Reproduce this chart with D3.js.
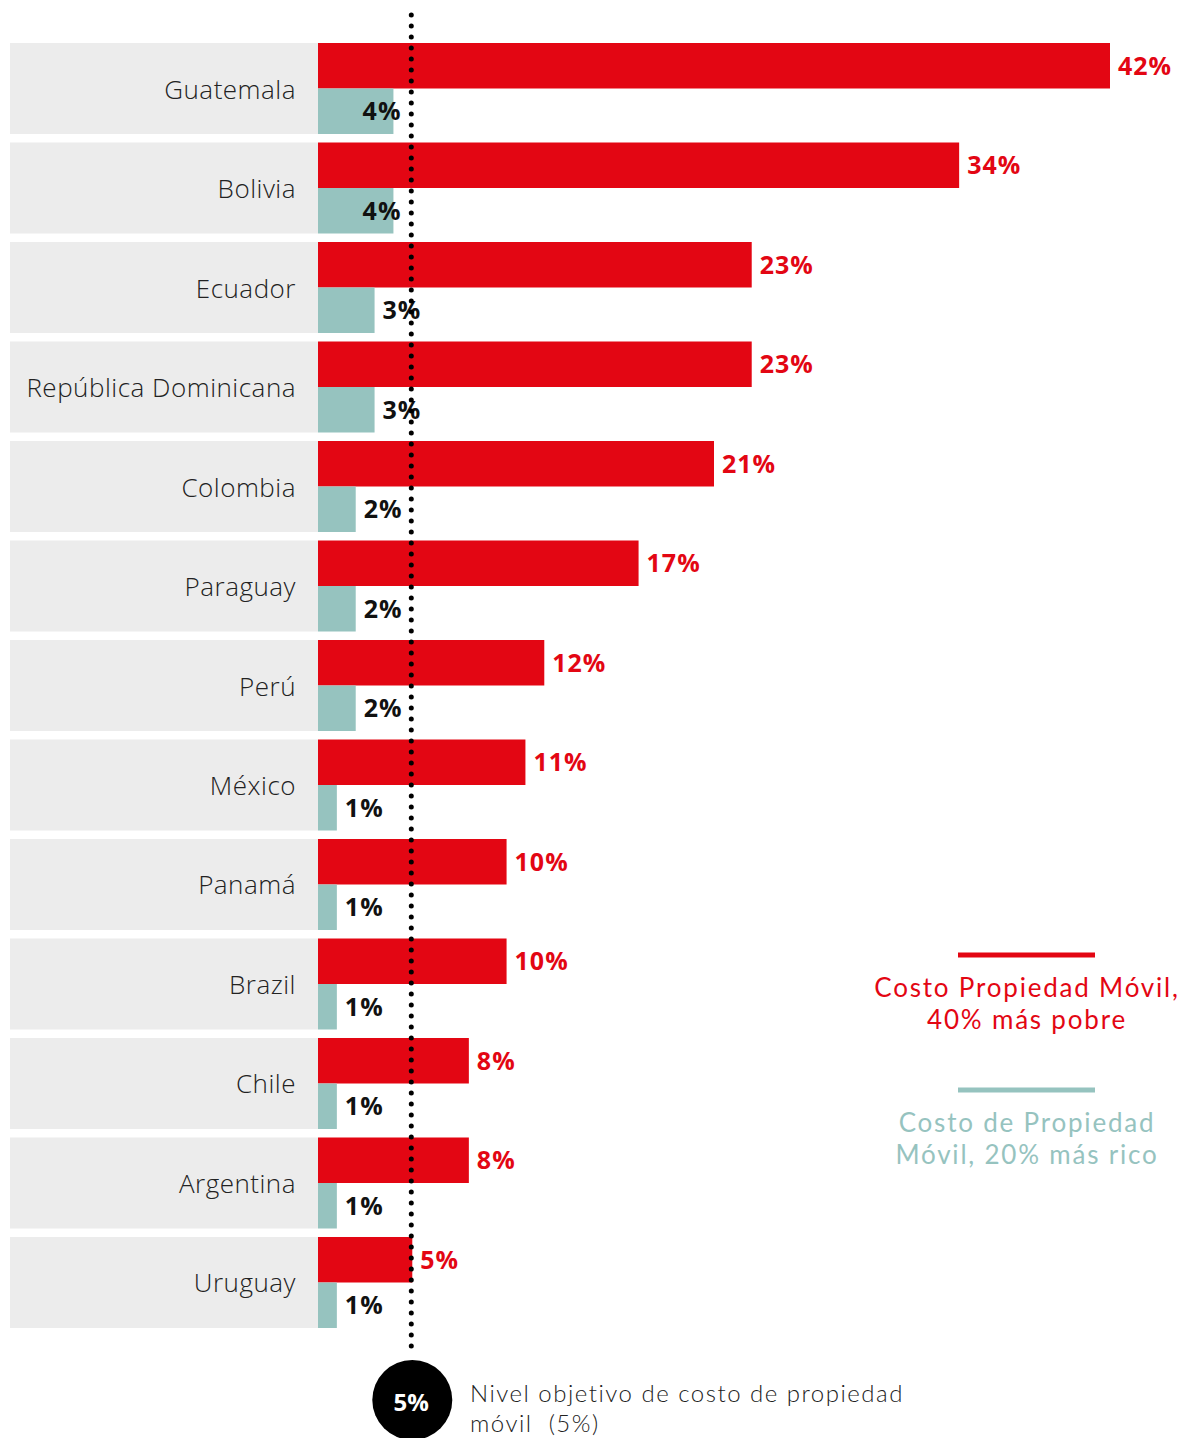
<!DOCTYPE html>
<html>
<head>
<meta charset="utf-8">
<script src="https://cdn.jsdelivr.net/npm/d3@7"></script>
<style>
body { margin: 0; background: #fff; }
text { font-family: "Open Sans", sans-serif; }
text.note { font-family: Lato, "Open Sans", sans-serif; }
</style>
</head>
<body>
<div id="chart"></div>
<script>
var countries = ["Guatemala","Bolivia","Ecuador","República Dominicana","Colombia","Paraguay","Perú","México","Panamá","Brazil","Chile","Argentina","Uruguay"];
var poorest = [42,34,23,23,21,17,12,11,10,10,8,8,5];
var richest = [4,4,3,3,2,2,2,1,1,1,1,1,1];
var target = 5;
var legendLabels = [["Costo Propiedad Móvil,","40% más pobre"],["Costo de Propiedad","Móvil, 20% más rico"]];
var targetLabel = ["Nivel objetivo de costo de propiedad","móvil\u00a0 (5%)"];

var red = "#e30613", teal = "#96c3bf", grey = "#ececec";

var svg = d3.select("#chart")
    .append("svg")
    .attr("width", 1184)
    .attr("height", 1438);

/*scales*/
var yScale = d3.scaleBand().domain(countries).range([43, 1328]).paddingInner(0.0854).paddingOuter(0);
var sub = d3.scaleBand().domain(["p","r"]).range([0, yScale.bandwidth()]);
var xScale = d3.scaleLinear().domain([0, 42]).range([318, 1110]);

var rows = countries.map(function(c, i){ return {c: c, p: poorest[i], r: richest[i]}; });

var g = svg.append("g");

/*grey label boxes*/
g.selectAll(".box")
    .data(rows)
    .join("rect")
    .attr("class","box")
    .attr("x", 10)
    .attr("width", xScale(0) - 10)
    .attr("y", d => yScale(d.c))
    .attr("height", yScale.bandwidth())
    .attr("fill", grey);

g.selectAll(".country")
    .data(rows)
    .join("text")
    .attr("class","country")
    .attr("x", 296)
    .attr("y", d => yScale(d.c) + yScale.bandwidth()/2 + 10)
    .attr("text-anchor","end")
    .attr("font-size", 26)
    .attr("font-weight", 300)
    .attr("letter-spacing", 0.5)
    .attr("fill", "#222")
    .text(d => d.c);

/*bars*/
g.selectAll(".barP")
    .data(rows)
    .join("rect")
    .attr("class","barP")
    .attr("x", xScale(0))
    .attr("y", d => yScale(d.c) + sub("p"))
    .attr("width", d => xScale(d.p) - xScale(0))
    .attr("height", sub.bandwidth())
    .attr("fill", red);

g.selectAll(".barR")
    .data(rows)
    .join("rect")
    .attr("class","barR")
    .attr("x", xScale(0))
    .attr("y", d => yScale(d.c) + sub("r"))
    .attr("width", d => xScale(d.r) - xScale(0))
    .attr("height", sub.bandwidth())
    .attr("fill", teal);

/*value labels*/
g.selectAll(".valP")
    .data(rows)
    .join("text")
    .attr("class","valP")
    .attr("x", d => xScale(d.p) + 8)
    .attr("y", d => yScale(d.c) + sub("p") + sub.bandwidth()/2 + 9)
    .attr("font-size", 25)
    .attr("font-weight", 700)
    .attr("letter-spacing", 1)
    .attr("fill", red)
    .text(d => d.p + "%");

g.selectAll(".valR")
    .data(rows)
    .join("text")
    .attr("class","valR")
    .attr("x", d => xScale(d.r) + 8)
    .attr("text-anchor", d => d.r >= 4 ? "end" : "start")
    .attr("y", d => yScale(d.c) + sub("r") + sub.bandwidth()/2 + 9)
    .attr("font-size", 25)
    .attr("font-weight", 700)
    .attr("letter-spacing", 1)
    .attr("fill", "#111")
    .text(d => d.r + "%");

/*target dotted line*/
svg.append("line")
    .attr("x1", xScale(target) - 1).attr("x2", xScale(target) - 1)
    .attr("y1", 15).attr("y2", 1356)
    .attr("stroke", "#000")
    .attr("stroke-width", 5)
    .attr("stroke-linecap", "round")
    .attr("stroke-dasharray", "0 11");

svg.append("circle")
    .attr("cx", xScale(target))
    .attr("cy", 1400)
    .attr("r", 40)
    .attr("fill", "#000");

svg.append("text")
    .attr("x", xScale(target) - 1)
    .attr("y", 1411)
    .attr("text-anchor","middle")
    .attr("font-size", 24)
    .attr("font-weight", 700)
    .attr("fill", "#fff")
    .text(target + "%");

svg.selectAll(".targetLabel")
    .data(targetLabel)
    .join("text")
    .attr("class","targetLabel note")
    .attr("x", 470)
    .attr("y", (d, i) => 1402 + i*30)
    .attr("font-size", 24)
    .attr("font-weight", 300)
    .attr("letter-spacing", 1.5)
    .attr("fill", "#222")
    .text(d => d);

/*legend*/
var legend = svg.append("g").attr("transform","translate(1027,955)");
[red, teal].forEach(function(col, i){
    var lg = legend.append("g").attr("transform","translate(0," + (i*135) + ")");
    lg.append("line")
        .attr("x1", -69).attr("x2", 68)
        .attr("stroke", col)
        .attr("stroke-width", 5);
    lg.selectAll("text")
        .data(legendLabels[i])
        .join("text")
        .attr("class","note")
        .attr("text-anchor","middle")
        .attr("font-size", 26)
        .attr("letter-spacing", 1.8)
        .attr("fill", col)
        .attr("x", 0)
        .attr("y", (d, j) => 42 + j*32)
        .text(d => d);
});
</script>
</body>
</html>
